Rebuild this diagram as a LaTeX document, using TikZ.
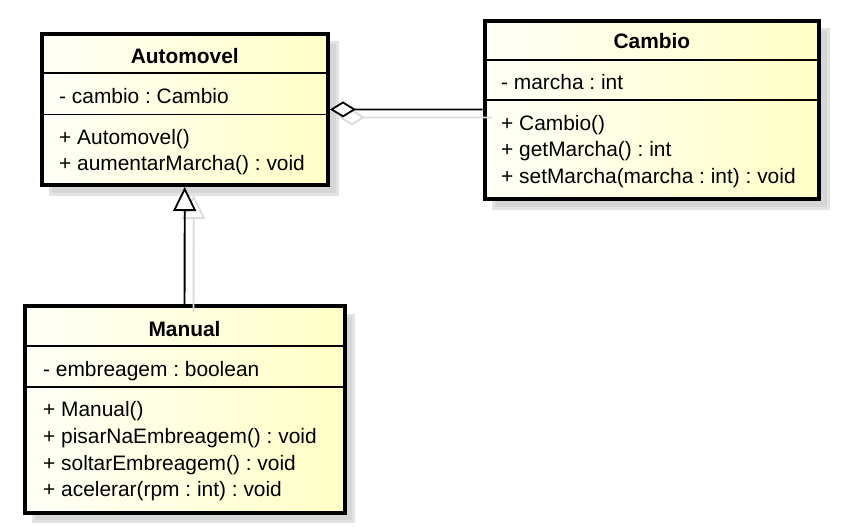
\documentclass[tikz,border=0pt]{standalone}
\usepackage{fontspec}
\setmainfont{Liberation Sans}
\usetikzlibrary{arrows.meta}
\frenchspacing

\begin{document}
\begin{tikzpicture}[x=1pt,y=-1pt,
  classbox/.style={draw, line width=4pt, rectangle, inner sep=0pt,
    left color=yellow!3!white, right color=yellow!22!white},
  shadowbox/.style={fill=black!16, draw=black!11, line width=3pt},
  member/.style={anchor=base west, inner sep=0pt, font=\fontsize{20.9}{25}\selectfont},
  title/.style={anchor=base, inner sep=0pt, font=\fontsize{20.9}{25}\selectfont\bfseries},
  sep/.style={line width=1.2pt},
  aggr/.style={line width=1.8pt, {Diamond[length=26pt,width=16pt,fill=white]}-},
  gener/.style={line width=1.8pt, -{Triangle[length=24pt,width=23pt,fill=white]}},
  ghost/.style={draw=black!14, transform canvas={shift={(9pt,-8pt)}}}]
\useasboundingbox (0,0) rectangle (845,530);
% shadows
\draw[shadowbox] (50.5,42.5) rectangle (337,194);
\draw[shadowbox] (493.7,29.5) rectangle (828,208);
\draw[shadowbox] (33.5,315) rectangle (353.5,521.5);
% classes
\node[classbox, minimum width=286.5pt, minimum height=151.5pt] (auto) at (184.75,109.25) {};
\node[classbox, minimum width=334.3pt, minimum height=178.5pt] (cambio) at (651.85,109.75) {};
\node[classbox, minimum width=320pt, minimum height=206.5pt] (manual) at (184.5,409.25) {};
\draw[sep] (auto.west |- 0,73) -- (auto.east |- 0,73);
\draw[sep] (auto.west |- 0,114.3) -- (auto.east |- 0,114.3);
\draw[sep] (cambio.west |- 0,60) -- (cambio.east |- 0,60);
\draw[sep] (cambio.west |- 0,100) -- (cambio.east |- 0,100);
\draw[sep] (manual.west |- 0,346) -- (manual.east |- 0,346);
\draw[sep] (manual.west |- 0,387) -- (manual.east |- 0,387);
% Automovel
\node[title] (autoName) at (184.75,63.3) {Automovel};
\node[member] (autoCambio) at (59,103.3) {- cambio : Cambio};
\node[member] (autoNew) at (59,144) {+ Automovel()};
\node[member] (autoAumentar) at (59,170.7) {+ aumentarMarcha() : void};
% Cambio
\node[title] (cambioName) at (651.85,48.3) {Cambio};
\node[member] (cambioMarcha) at (501,89) {- marcha : int};
\node[member] (cambioNew) at (501,130.7) {+ Cambio()};
\node[member] (cambioGet) at (501,156.7) {+ getMarcha() : int};
\node[member] (cambioSet) at (501,183.3) {+ setMarcha(marcha : int) : void};
% Manual
\node[title] (manualName) at (184.5,336) {Manual};
\node[member] (manualEmbr) at (43,376.7) {- embreagem : boolean};
\node[member] (manualNew) at (43,416.7) {+ Manual()};
\node[member] (manualPisar) at (43,443.3) {+ pisarNaEmbreagem() : void};
\node[member] (manualSoltar) at (43,470) {+ soltarEmbreagem() : void};
\node[member] (manualAcel) at (43,496.7) {+ acelerar(rpm : int) : void};
% connectors
\draw[aggr, ghost] (auto) -- (cambio);
\draw[gener, ghost] (manual) -- (auto);
\draw[aggr] (auto) -- (cambio);
\draw[gener] (manual) -- (auto);
\end{tikzpicture}
\end{document}
